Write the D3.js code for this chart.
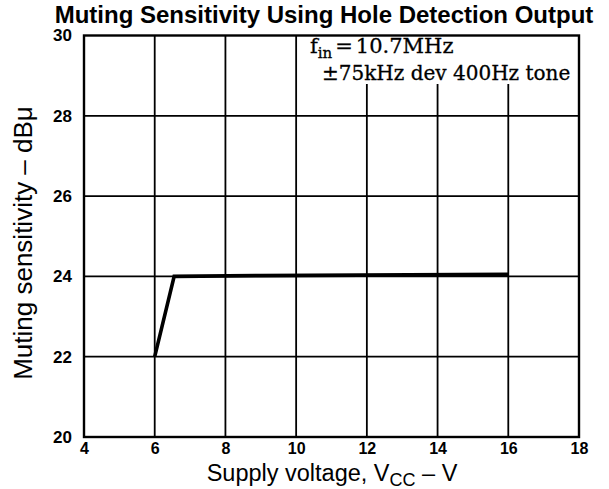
<!DOCTYPE html>
<html>
<head>
<meta charset="utf-8">
<script src="https://cdn.jsdelivr.net/npm/d3@7"></script>
<style>
  html, body { margin: 0; padding: 0; background: #fff; }
  svg { display: block; }
</style>
</head>
<body>
<svg id="chart" width="609" height="489"></svg>
<script>
// Supply voltage (V) vs muting sensitivity (dBμ)
const voltage = [6, 6.55, 9, 16];
const sensitivity = [22, 24, 24.02, 24.05];
const xTicks = [4, 6, 8, 10, 12, 14, 16, 18];
const yTicks = [20, 22, 24, 26, 28, 30];

const svg = d3.select("#chart");
const m = { left: 84, right: 579, top: 35.5, bottom: 437 };

const x = d3.scaleLinear().domain([4, 18]).range([m.left, m.right]);
const y = d3.scaleLinear().domain([20, 30]).range([m.bottom, m.top]);

// Grid: vertical lines at 12, 14, 16 stop short of the condition note
const noteBottom = 84;
const vGrid = svg.append("g");
xTicks.slice(1, -1).forEach(t => {
  vGrid.append("line")
    .attr("x1", x(t)).attr("x2", x(t))
    .attr("y1", t >= 12 ? noteBottom : m.top).attr("y2", m.bottom)
    .attr("stroke", "#000").attr("stroke-width", 1.8);
});
const hGrid = svg.append("g");
yTicks.slice(1, -1).forEach(t => {
  hGrid.append("line")
    .attr("x1", m.left).attr("x2", m.right)
    .attr("y1", y(t)).attr("y2", y(t))
    .attr("stroke", "#000").attr("stroke-width", 1.8);
});

// Frame
svg.append("rect")
  .attr("x", m.left).attr("y", m.top)
  .attr("width", m.right - m.left).attr("height", m.bottom - m.top)
  .attr("fill", "none").attr("stroke", "#000").attr("stroke-width", 2.4);

// Axes (labels only; frame and grid drawn above)
const tickFont = "'Liberation Sans', Arial, sans-serif";
const xAxis = svg.append("g")
  .attr("transform", `translate(0,${m.bottom})`)
  .call(d3.axisBottom(x).tickValues(xTicks).tickSize(0).tickPadding(6));
xAxis.select(".domain").remove();
xAxis.selectAll("text")
  .attr("font-family", tickFont)
  .attr("font-weight", "bold").attr("font-size", 16)
  .attr("fill", "#000");

const yAxis = svg.append("g")
  .attr("transform", `translate(${m.left},0)`)
  .call(d3.axisLeft(y).tickValues(yTicks).tickSize(0).tickPadding(12));
yAxis.select(".domain").remove();
yAxis.selectAll("text")
  .attr("font-family", tickFont)
  .attr("font-weight", "bold").attr("font-size", 17)
  .attr("fill", "#000");

// Data line
const line = d3.line().x((d, i) => x(voltage[i])).y(d => y(d));
svg.append("path")
  .datum(sensitivity)
  .attr("d", line)
  .attr("fill", "none").attr("stroke", "#000")
  .attr("stroke-width", 3.6).attr("stroke-linejoin", "miter");

// Title
svg.append("text")
  .attr("x", 324).attr("y", 23)
  .attr("text-anchor", "middle")
  .attr("font-family", "'Liberation Sans', Arial, sans-serif")
  .attr("font-weight", "bold").attr("font-size", 24)
  .text("Muting Sensitivity Using Hole Detection Output");

// Axis titles
const xt = svg.append("text")
  .attr("x", 332).attr("y", 481)
  .attr("text-anchor", "middle")
  .attr("font-family", "'Liberation Sans', Arial, sans-serif")
  .attr("font-size", 23.5);
xt.append("tspan").text("Supply voltage, V");
xt.append("tspan").attr("font-size", 18).attr("dy", 5).text("CC");
xt.append("tspan").attr("dy", -5).text(" – V");

svg.append("text")
  .attr("transform", "translate(32,243) rotate(-90)")
  .attr("text-anchor", "middle")
  .attr("font-family", "'Liberation Sans', Arial, sans-serif")
  .attr("font-size", 26)
  .text("Muting sensitivity – dBμ");

// Measurement conditions
const note = svg.append("g")
  .attr("font-family", "'DejaVu Serif', serif")
  .attr("font-size", 20)
  .attr("stroke", "#000").attr("stroke-width", 0.3);
const n1 = note.append("text").attr("x", 310).attr("y", 53).attr("font-size", 21);
n1.append("tspan").text("f");
n1.append("tspan").attr("font-size", 15).attr("dy", 5).text("in");
n1.append("tspan").attr("dy", -5).attr("dx", 3).text("=");
n1.append("tspan").attr("dx", 3).text("10.7MHz");
note.append("text").attr("x", 322).attr("y", 80)
  .text("±75kHz dev 400Hz  tone");
</script>
</body>
</html>
